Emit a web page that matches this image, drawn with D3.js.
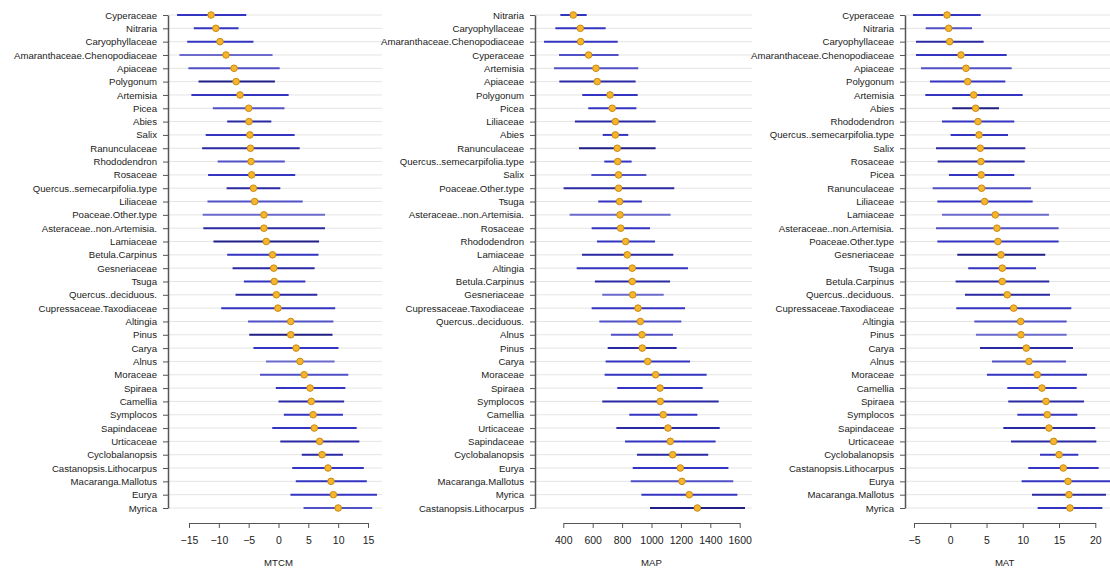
<!DOCTYPE html>
<html>
<head>
<meta charset="utf-8">
<script src="https://cdn.jsdelivr.net/npm/d3@7"></script>
<style>
  body { margin: 0; background: #fff; }
  svg { display: block; font-family: "Liberation Sans", Arial, sans-serif; }
</style>
</head>
<body>
<div id="chart"></div>
<script>
// MTCM panel
var mtcmTaxa = ["Cyperaceae", "Nitraria", "Caryophyllaceae", "Amaranthaceae.Chenopodiaceae", "Apiaceae", "Polygonum", "Artemisia", "Picea", "Abies", "Salix", "Ranunculaceae", "Rhododendron", "Rosaceae", "Quercus..semecarpifolia.type", "Liliaceae", "Poaceae.Other.type", "Asteraceae..non.Artemisia.", "Lamiaceae", "Betula.Carpinus", "Gesneriaceae", "Tsuga", "Quercus..deciduous.", "Cupressaceae.Taxodiaceae", "Altingia", "Pinus", "Carya", "Alnus", "Moraceae", "Spiraea", "Camellia", "Symplocos", "Sapindaceae", "Urticaceae", "Cyclobalanopsis", "Castanopsis.Lithocarpus", "Macaranga.Mallotus", "Eurya", "Myrica"];
var mtcmMean = [-11.3, -10.5, -9.8, -8.8, -7.45, -7.1, -6.45, -5.0, -4.95, -4.8, -4.7, -4.6, -4.5, -4.2, -4.0, -2.45, -2.45, -2.05, -1.0, -0.8, -0.7, -0.35, -0.1, 2.05, 2.05, 2.95, 3.6, 4.3, 5.3, 5.5, 5.8, 6.0, 6.9, 7.3, 8.3, 8.8, 9.2, 10.0];
var mtcmLow = [-17.0, -14.2, -15.3, -16.6, -15.1, -13.4, -14.6, -11.0, -8.6, -12.2, -12.8, -10.2, -11.8, -8.7, -11.9, -12.7, -12.6, -10.9, -8.6, -7.7, -5.8, -7.2, -9.6, -5.1, -4.9, -4.2, -2.1, -3.1, -0.45, 0.0, 0.9, -1.05, 0.3, 3.9, 2.3, 2.9, 2.0, 4.2];
var mtcmHigh = [-5.4, -6.7, -4.2, -1.0, 0.2, -0.6, 1.7, 1.0, -1.2, 2.7, 3.55, 1.05, 2.8, 0.3, 4.05, 7.8, 7.8, 6.8, 6.7, 6.05, 4.5, 6.5, 9.5, 9.2, 9.05, 10.05, 9.4, 11.7, 11.2, 11.0, 10.8, 13.1, 13.55, 10.8, 14.3, 14.8, 16.5, 15.7];
var mtcmShade = [1, 1, 1, 0, 0.5, 2, 1, 0.5, 1.5, 1, 1.5, 0.5, 1, 1.5, 0.5, 0, 1.5, 2, 1, 1.5, 1, 1.5, 1, 0.5, 2, 1, 0, 0.5, 1, 1.5, 1, 1, 1.5, 1.5, 1, 1, 1, 0.5];
var mtcmTicks = [-15, -10, -5, 0, 5, 10, 15];

// MAP panel
var mapTaxa = ["Nitraria", "Caryophyllaceae", "Amaranthaceae.Chenopodiaceae", "Cyperaceae", "Artemisia", "Apiaceae", "Polygonum", "Picea", "Liliaceae", "Abies", "Ranunculaceae", "Quercus..semecarpifolia.type", "Salix", "Poaceae.Other.type", "Tsuga", "Asteraceae..non.Artemisia.", "Rosaceae", "Rhododendron", "Lamiaceae", "Altingia", "Betula.Carpinus", "Gesneriaceae", "Cupressaceae.Taxodiaceae", "Quercus..deciduous.", "Alnus", "Pinus", "Carya", "Moraceae", "Spiraea", "Symplocos", "Camellia", "Urticaceae", "Sapindaceae", "Cyclobalanopsis", "Eurya", "Macaranga.Mallotus", "Myrica", "Castanopsis.Lithocarpus"];
var mapMean = [468, 516, 518, 572, 622, 631, 718, 733, 754, 754, 767, 770, 776, 776, 783, 786, 790, 824, 835, 869, 869, 872, 908, 924, 935, 937, 974, 1028, 1058, 1060, 1080, 1112, 1128, 1144, 1196, 1207, 1257, 1312];
var mapLow = [380, 346, 269, 371, 337, 373, 529, 570, 479, 668, 507, 679, 591, 402, 638, 443, 593, 629, 527, 491, 615, 665, 593, 645, 724, 702, 688, 681, 767, 665, 849, 761, 820, 901, 872, 859, 931, 990];
var mapHigh = [559, 688, 770, 776, 910, 892, 906, 897, 1028, 842, 1028, 865, 965, 1155, 935, 1130, 990, 1024, 1148, 1248, 1126, 1083, 1228, 1203, 1146, 1171, 1262, 1375, 1348, 1457, 1312, 1464, 1436, 1386, 1523, 1556, 1584, 1636];
var mapShade = [1, 1, 1, 0.5, 0.5, 1.5, 1, 1, 1.5, 1, 2, 1, 0.5, 1.5, 1, 0, 1, 1, 1.5, 1, 1.5, 0, 1, 0.5, 0.5, 1.5, 1, 1, 1, 1.5, 1, 1.5, 1, 1.5, 1, 0.5, 1, 2];
var mapTicks = [400, 600, 800, 1000, 1200, 1400, 1600];

// MAT panel
var matTaxa = ["Cyperaceae", "Nitraria", "Caryophyllaceae", "Amaranthaceae.Chenopodiaceae", "Apiaceae", "Polygonum", "Artemisia", "Abies", "Rhododendron", "Quercus..semecarpifolia.type", "Salix", "Rosaceae", "Picea", "Ranunculaceae", "Liliaceae", "Lamiaceae", "Asteraceae..non.Artemisia.", "Poaceae.Other.type", "Gesneriaceae", "Tsuga", "Betula.Carpinus", "Quercus..deciduous.", "Cupressaceae.Taxodiaceae", "Altingia", "Pinus", "Carya", "Alnus", "Moraceae", "Camellia", "Spiraea", "Symplocos", "Sapindaceae", "Urticaceae", "Cyclobalanopsis", "Castanopsis.Lithocarpus", "Eurya", "Macaranga.Mallotus", "Myrica"];
var matMean = [-0.45, -0.22, -0.08, 1.48, 2.17, 2.4, 3.23, 3.5, 3.82, 3.96, 4.14, 4.23, 4.27, 4.32, 4.74, 6.21, 6.44, 6.57, 6.99, 7.17, 7.17, 7.86, 8.74, 9.71, 9.75, 10.48, 10.85, 12.0, 12.64, 13.2, 13.38, 13.61, 14.25, 15.0, 15.59, 16.24, 16.37, 16.51];
var matLow = [-5.14, -3.39, -4.72, -4.72, -4.03, -2.79, -3.44, 0.28, -1.14, 0.05, -1.97, -1.74, -0.18, -2.43, -1.78, -1.14, -1.97, -1.78, 0.97, 2.48, 0.74, 2.03, 0.83, 3.32, 3.54, 4.1, 5.75, 5.06, 7.87, 8.0, 9.25, 7.32, 8.38, 12.37, 10.76, 9.84, 11.27, 12.05];
var matHigh = [4.19, 3.0, 4.6, 7.78, 8.47, 7.59, 9.98, 6.72, 8.83, 7.96, 10.35, 10.26, 8.83, 11.12, 11.36, 13.61, 14.94, 14.94, 13.1, 11.82, 13.65, 13.75, 16.69, 16.05, 16.05, 16.92, 15.96, 18.85, 17.43, 18.44, 17.52, 20.0, 20.14, 17.66, 20.46, 22.6, 21.47, 20.97];
var matShade = [1, 0.5, 1.5, 1, 0.5, 1, 1, 2, 1, 1, 1.5, 1.5, 1, 0.5, 1, 0, 0.5, 1, 2, 1, 1.5, 1.5, 1, 0.5, 0, 1.5, 0.5, 1, 1, 1.5, 1, 1.5, 1.5, 1, 1, 1, 1.5, 1];
var matTicks = [-5, 0, 5, 10, 15, 20];

var width = 1110, height = 570;

var svg = d3.select("#chart").append("svg")
    .attr("width", width)
    .attr("height", height)

var shadeColor = d3.scaleLinear()
    .domain([0, 1, 2])
    .range(["#6b6bcc", "#3434c2", "#1f1f86"]);

var panels = [
    { title: "MTCM", taxa: mtcmTaxa, mean: mtcmMean, low: mtcmLow, high: mtcmHigh, shade: mtcmShade,
      ticks: mtcmTicks, domain: [-15, 15], range: [189, 368], axisX: 168, right: 382 },
    { title: "MAP", taxa: mapTaxa, mean: mapMean, low: mapLow, high: mapHigh, shade: mapShade,
      ticks: mapTicks, domain: [400, 1600], range: [563.3, 739.7], axisX: 535, right: 752 },
    { title: "MAT", taxa: matTaxa, mean: matMean, low: matLow, high: matHigh, shade: matShade,
      ticks: matTicks, domain: [-5, 20], range: [914, 1095.3], axisX: 905, right: 1110 }
];

panels.forEach(function(p, i) {
    var rows = p.taxa.map(function(t, j) {
        return { name: t, mean: p.mean[j], low: p.low[j], high: p.high[j], shade: p.shade[j] };
    });

    var xScale = d3.scaleLinear().domain(p.domain).range(p.range);
    var yScale = d3.scalePoint().domain(p.taxa).range([15, 508]);

    var g = svg.append("g");

    svg.append("clipPath").attr("id", "clip" + i)
        .append("rect")
        .attr("x", p.axisX).attr("y", 0)
        .attr("width", p.right - p.axisX).attr("height", 520);

    // grid lines
    g.selectAll(".grid")
        .data(rows)
        .enter().append("line")
        .attr("x1", p.axisX)
        .attr("x2", p.right)
        .attr("y1", function(d) { return yScale(d.name) })
        .attr("y2", function(d) { return yScale(d.name) })
        .attr("stroke", "#e4e4e4")
        .attr("stroke-width", 1)

    var marks = g.append("g").attr("clip-path", "url(#clip" + i + ")");

    // error bars
    marks.selectAll(".bar")
        .data(rows)
        .enter().append("line")
        .attr("x1", function(d) { return xScale(d.low) })
        .attr("x2", function(d) { return xScale(d.high) })
        .attr("y1", function(d) { return yScale(d.name) })
        .attr("y2", function(d) { return yScale(d.name) })
        .attr("stroke", function(d) { return shadeColor(d.shade) })
        .attr("stroke-width", 2)

    // mean points
    marks.selectAll(".pt")
        .data(rows)
        .enter().append("circle")
        .attr("cx", function(d) { return xScale(d.mean) })
        .attr("cy", function(d) { return yScale(d.name) })
        .attr("r", 3.3)
        .attr("fill", "#f7b52c")
        .attr("stroke", "#c98a10")
        .attr("stroke-width", 1)

    // y axis
    var yAxis = g.append("g")
        .attr("transform", "translate(" + p.axisX + ",0)")
        .call(d3.axisLeft(yScale).tickSizeInner(5).tickSizeOuter(0).tickPadding(6))
    yAxis.select(".domain").attr("stroke", "#555").attr("stroke-width", 1.5)
    yAxis.selectAll(".tick line").attr("stroke", "#555")
    yAxis.selectAll("text")
        .attr("font-size", "9.6px")
        .attr("fill", "#222")
        .attr("font-family", "Liberation Sans, Arial, sans-serif")

    // x axis
    var xAxis = g.append("g")
        .attr("transform", "translate(0,523)")
        .call(d3.axisBottom(xScale).tickValues(p.ticks).tickSizeInner(5).tickSizeOuter(0).tickPadding(9)
            .tickFormat(function(d) { return d < 0 ? "\u2212" + Math.abs(d) : d; }))
    xAxis.select(".domain").attr("stroke", "#555")
    xAxis.selectAll(".tick line").attr("stroke", "#555")
    xAxis.selectAll("text")
        .attr("font-size", "10.5px")
        .attr("fill", "#222")
        .attr("font-family", "Liberation Sans, Arial, sans-serif")

    svg.append("text")
        .attr("x", (p.range[0] + p.range[1]) / 2)
        .attr("y", 566)
        .attr("text-anchor", "middle")
        .attr("font-size", "9.6px")
        .attr("fill", "#222")
        .text(p.title)
});
</script>
</body>
</html>
